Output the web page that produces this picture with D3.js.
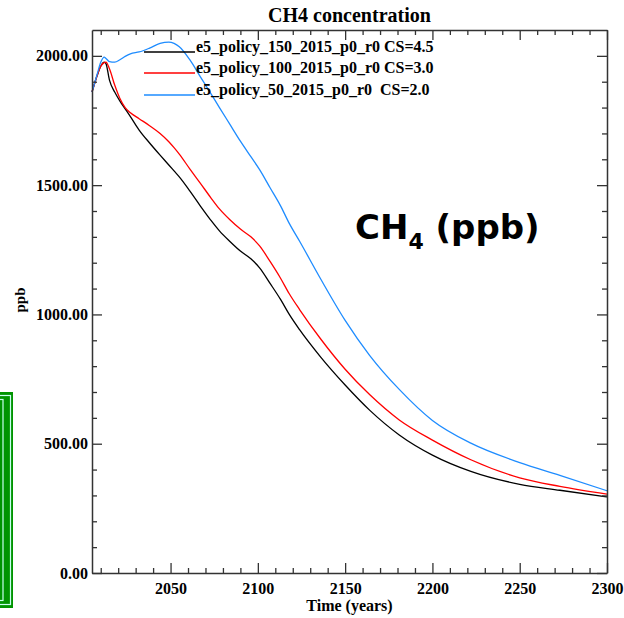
<!DOCTYPE html>
<html>
<head>
<meta charset="utf-8">
<script src="https://cdn.jsdelivr.net/npm/d3@7"></script>
<style>
  body { margin: 0; background: #fff; }
  text { font-family: "Liberation Serif", "Times New Roman", serif; font-weight: bold; }
</style>
</head>
<body>
<svg id="chart" width="624" height="618"></svg>
<script>
// values
const years = [2005, 2008, 2010, 2012, 2013, 2015, 2018, 2021, 2024, 2027, 2032, 2038, 2044, 2049, 2052,
  2055, 2061, 2067, 2073, 2078, 2084, 2090, 2096, 2101, 2107, 2113, 2118, 2124, 2136, 2150,
  2164, 2181, 2200, 2222, 2250, 2273, 2300];

const black150 = [1860, 1925, 1960, 1976, 1970, 1906, 1860, 1825, 1795, 1765, 1713, 1663, 1616, 1578, 1555,
  1532, 1478, 1420, 1365, 1323, 1282, 1245, 1215, 1180, 1120, 1058, 1000, 940, 835, 727,
  630, 534, 456, 393, 343, 320, 294];

const red100 = [1860, 1925, 1960, 1974, 1976, 1950, 1887, 1835, 1800, 1780, 1757, 1730, 1700, 1668, 1645,
  1620, 1563, 1508, 1452, 1408, 1366, 1330, 1300, 1265, 1205, 1140, 1080, 1018, 905, 788,
  690, 592, 514, 438, 368, 335, 305];

const blue50 = [1860, 1930, 1975, 1995, 1990, 1978, 1976, 1985, 1998, 2008, 2015, 2030, 2048, 2053, 2048,
  2035, 1985, 1920, 1855, 1800, 1735, 1670, 1610, 1560, 1490, 1420, 1352, 1282, 1137, 977,
  842, 710, 590, 502, 427, 378, 318];

const seriesNames = ["e5_policy_150_2015_p0_r0 CS=4.5", "e5_policy_100_2015_p0_r0 CS=3.0", "e5_policy_50_2015_p0_r0  CS=2.0"];
const seriesColors = ["#000000", "#ff0000", "#1e8cff"];
const seriesData = [black150, red100, blue50];

const xTickValues = [2050, 2100, 2150, 2200, 2250, 2300];
const yTickValues = [0, 500, 1000, 1500, 2000];

const svg = d3.select("#chart");
const plotL = 92, plotR = 607, plotT = 30, plotB = 573;

const x = d3.scaleLinear().domain([2005, 2300]).range([plotL, plotR]);
const y = d3.scaleLinear().domain([0, 2100]).range([plotB, plotT]);

// green widget at the left edge
svg.append("rect").attr("x", -20).attr("y", 392).attr("width", 33).attr("height", 216).attr("fill", "#009400");
svg.append("rect").attr("x", -20).attr("y", 395.5).attr("width", 30.5).attr("height", 209).attr("fill", "none")
  .attr("stroke", "#c8fff0").attr("stroke-width", 1.2);
svg.append("rect").attr("x", -20).attr("y", 399.5).attr("width", 23).attr("height", 201).attr("fill", "none")
  .attr("stroke", "#c8fff0").attr("stroke-width", 1.2);

// lines
const line = d3.line().x((d, i) => x(years[i])).y(d => y(d)).curve(d3.curveMonotoneX);
seriesData.forEach((s, k) => {
  svg.append("path").datum(s).attr("d", line)
    .attr("fill", "none").attr("stroke", seriesColors[k]).attr("stroke-width", 1.3);
});

// axes
const axisColor = "#333";
function styleAxis(g) {
  g.selectAll("path").attr("stroke", axisColor).attr("stroke-width", 1.5);
  g.selectAll("line").attr("stroke", axisColor).attr("stroke-width", 1.3);
}

const xMinor = d3.range(2010, 2300, 10).filter(v => v % 50 !== 0);
const yMinor = d3.range(100, 2100, 100).filter(v => v % 500 !== 0);

// bottom
const gx = svg.append("g").attr("transform", `translate(0,${plotB})`)
  .call(d3.axisBottom(x).tickValues(xTickValues).tickSizeInner(-10).tickSizeOuter(0)
    .tickFormat(d3.format("d")).tickPadding(10));
gx.selectAll("text").attr("font-size", 16).attr("fill", "#000")
  .style("font-family", "Liberation Serif").style("font-weight", "bold");
styleAxis(gx);
svg.append("g").attr("transform", `translate(0,${plotB})`)
  .call(d3.axisBottom(x).tickValues(xMinor).tickSize(-5).tickFormat(""))
  .call(g => { g.select(".domain").remove(); styleAxis(g); });

// top
const gxt = svg.append("g").attr("transform", `translate(0,${plotT})`)
  .call(d3.axisTop(x).tickValues(xTickValues).tickSizeInner(-10).tickSizeOuter(0).tickFormat(""));
styleAxis(gxt);
svg.append("g").attr("transform", `translate(0,${plotT})`)
  .call(d3.axisTop(x).tickValues(xMinor).tickSize(-5).tickFormat(""))
  .call(g => { g.select(".domain").remove(); styleAxis(g); });

// left
const gy = svg.append("g").attr("transform", `translate(${plotL},0)`)
  .call(d3.axisLeft(y).tickValues(yTickValues).tickSizeInner(-10).tickSizeOuter(0)
    .tickFormat(d3.format(".2f")).tickPadding(4));
gy.selectAll("text").attr("font-size", 16).attr("fill", "#000")
  .style("font-family", "Liberation Serif").style("font-weight", "bold");
styleAxis(gy);
svg.append("g").attr("transform", `translate(${plotL},0)`)
  .call(d3.axisLeft(y).tickValues(yMinor).tickSize(-5).tickFormat(""))
  .call(g => { g.select(".domain").remove(); styleAxis(g); });

// right
const gyr = svg.append("g").attr("transform", `translate(${plotR},0)`)
  .call(d3.axisRight(y).tickValues(yTickValues).tickSizeInner(-10).tickSizeOuter(0).tickFormat(""));
styleAxis(gyr);
svg.append("g").attr("transform", `translate(${plotR},0)`)
  .call(d3.axisRight(y).tickValues(yMinor).tickSize(-5).tickFormat(""))
  .call(g => { g.select(".domain").remove(); styleAxis(g); });

// titles
svg.append("text").attr("x", (plotL + plotR) / 2).attr("y", 22).attr("text-anchor", "middle")
  .attr("font-size", 20).text("CH4 concentration");
svg.append("text").attr("x", (plotL + plotR) / 2).attr("y", 611).attr("text-anchor", "middle")
  .attr("font-size", 16).text("Time (years)");
svg.append("text").attr("transform", "translate(25,300) rotate(-90)").attr("text-anchor", "middle")
  .attr("font-size", 15).text("ppb");

// legend
const legY = [52, 73, 95];
seriesNames.forEach((name, k) => {
  svg.append("line").attr("x1", 144).attr("x2", 195).attr("y1", legY[k]).attr("y2", legY[k])
    .attr("stroke", seriesColors[k]).attr("stroke-width", 1.3);
  svg.append("text").attr("x", 196).attr("y", legY[k]).attr("font-size", 16)
    .style("white-space", "pre").text(name);
});

// big label
const big = svg.append("text").attr("x", 355).attr("y", 239)
  .style("font-family", "DejaVu Sans, Verdana, sans-serif").attr("font-size", 34);
big.append("tspan").text("CH");
big.append("tspan").attr("font-size", 22).attr("dy", 10).text("4");
big.append("tspan").attr("dy", -10).text(" (ppb)");
</script>
</body>
</html>
